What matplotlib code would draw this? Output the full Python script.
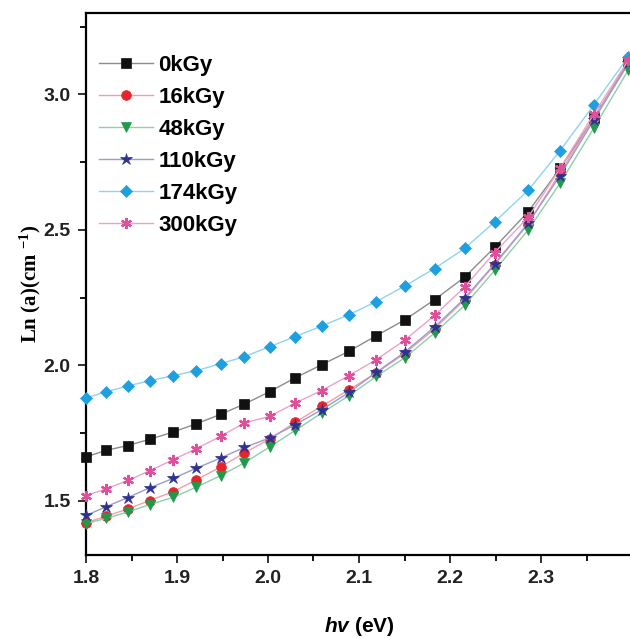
import matplotlib
matplotlib.use('Agg')
import matplotlib.pyplot as plt
from matplotlib.ticker import MultipleLocator

plt.rcParams['font.family'] = 'Liberation Sans'
plt.rcParams['mathtext.fontset'] = 'custom'
plt.rcParams['mathtext.rm'] = 'Liberation Serif:bold'
plt.rcParams['mathtext.it'] = 'Liberation Sans:bold:italic'

# photon energy (eV)
hv = [1.800, 1.822, 1.846, 1.870, 1.896, 1.921, 1.948, 1.974, 2.002, 2.030, 2.059,
      2.089, 2.119, 2.150, 2.183, 2.216, 2.249, 2.286, 2.321, 2.358, 2.396]

ln_0 = [1.662, 1.686, 1.704, 1.727, 1.754, 1.784, 1.819, 1.857, 1.903, 1.954, 2.002,
        2.052, 2.109, 2.167, 2.242, 2.325, 2.435, 2.567, 2.727, 2.912, 3.120]
ln_16 = [1.419, 1.443, 1.470, 1.501, 1.534, 1.577, 1.625, 1.677, 1.728, 1.790, 1.849,
         1.910, 1.972, 2.043, 2.134, 2.242, 2.371, 2.522, 2.711, 2.912, 3.114]
ln_48 = [1.416, 1.435, 1.459, 1.486, 1.513, 1.550, 1.593, 1.640, 1.699, 1.760, 1.824,
         1.888, 1.959, 2.027, 2.119, 2.221, 2.350, 2.500, 2.672, 2.875, 3.090]
ln_110 = [1.446, 1.478, 1.512, 1.548, 1.583, 1.620, 1.658, 1.697, 1.732, 1.781, 1.836,
          1.900, 1.974, 2.048, 2.141, 2.247, 2.374, 2.525, 2.700, 2.905, 3.114]
ln_174 = [1.879, 1.902, 1.924, 1.943, 1.962, 1.980, 2.006, 2.032, 2.069, 2.106, 2.145,
          2.187, 2.235, 2.292, 2.357, 2.431, 2.529, 2.646, 2.792, 2.961, 3.139]
ln_300 = [1.519, 1.544, 1.575, 1.611, 1.652, 1.692, 1.738, 1.787, 1.812, 1.861, 1.907,
          1.962, 2.021, 2.092, 2.184, 2.289, 2.416, 2.547, 2.727, 2.927, 3.126]

labels = ['0kGy', '16kGy', '48kGy', '110kGy', '174kGy', '300kGy']
series = [ln_0, ln_16, ln_48, ln_110, ln_174, ln_300]

# (marker colour, line colour, marker, size)
styles = [
    ('#111111', '#8c8c8c', 's', 6.5),
    ('#e8242b', '#f2a0a8', 'o', 7),
    ('#1f9a4a', '#8fcfa5', 'v', 7.5),
    ('#2e3192', '#9a9ccc', '*', 9),
    ('#1e9fe0', '#8fd3f2', 'D', 6.5),
    ('#e0509a', '#f0a0c8', (6, 2, 0), 8),
]

fig = plt.figure(figsize=(6.3, 6.38), dpi=100)
ax = fig.add_axes([86 / 630, 83 / 638, 546 / 630, 542 / 638])

for y, lab, (mc, lc, mk, ms) in zip(series, labels, styles):
    ax.plot(hv, y, color=lc, lw=1.0, marker=mk, ms=ms, mfc=mc, mec=mc,
            mew=1.6 if mk == (6, 2, 0) else 0.5, label=lab, clip_on=False, zorder=3)

ax.set_xlim(1.8, 2.4)
ax.set_ylim(1.3, 3.3)
ax.set_xticks([1.8, 1.9, 2.0, 2.1, 2.2, 2.3])
ax.xaxis.set_minor_locator(MultipleLocator(0.05))
ax.yaxis.set_major_locator(MultipleLocator(0.5))
ax.yaxis.set_minor_locator(MultipleLocator(0.25))
ax.tick_params(which='major', direction='out', length=6, width=1.3, labelsize=14,
               colors='#222222', pad=5)
ax.tick_params(which='minor', direction='out', length=4, width=1.3)
for t in ax.get_xticklabels() + ax.get_yticklabels():
    t.set_fontweight('bold')
for s in ax.spines.values():
    s.set_linewidth(1.6)

ax.set_xlabel(r'$hv$ (eV)', fontsize=15, fontweight='bold', labelpad=20)
ax.set_ylabel(r'Ln (a)(cm $^{-1}$)', fontsize=15, fontweight='bold',
              family='Liberation Serif', labelpad=0)

leg = ax.legend(loc='upper left', bbox_to_anchor=(0.0, 0.948), frameon=False,
                prop={'weight': 'bold', 'size': 16}, handlelength=2.4,
                labelspacing=0.5, handletextpad=0.25, borderaxespad=0.2)

fig.savefig('out.png', dpi=100)
